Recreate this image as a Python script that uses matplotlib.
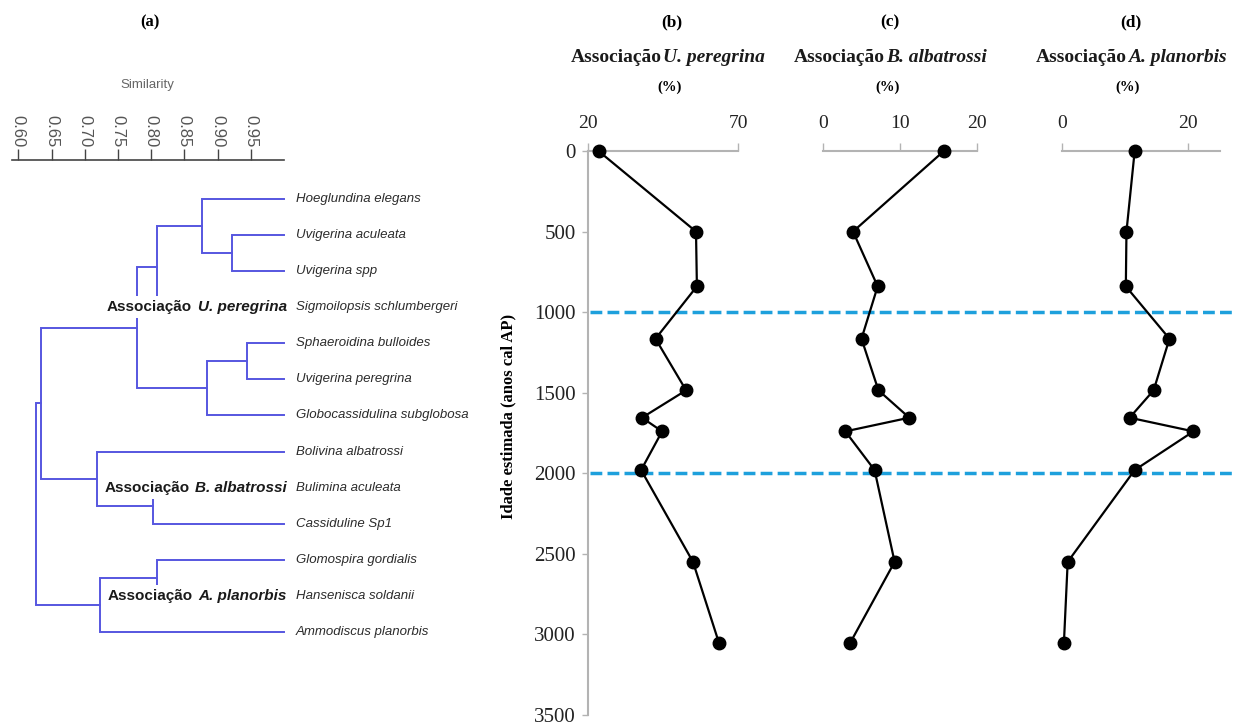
import matplotlib
matplotlib.use("Agg")
import matplotlib.pyplot as plt
from matplotlib.offsetbox import TextArea, HPacker, AnnotationBbox

# --- data ---------------------------------------------------------------
# (a) cluster dendrogram
leaves = ["Hoeglundina elegans", "Uvigerina aculeata", "Uvigerina spp",
          "Sigmoilopsis schlumbergeri", "Sphaeroidina bulloides",
          "Uvigerina peregrina", "Globocassidulina subglobosa",
          "Bolivina albatrossi", "Bulimina aculeata", "Cassiduline Sp1",
          "Glomospira gordialis", "Hansenisca soldanii", "Ammodiscus planorbis"]
# merges: (cluster a, cluster b, similarity) - new cluster ids start at 13
merges = [(1, 2, 0.922), (0, 13, 0.877), (14, 3, 0.809), (4, 5, 0.944),
          (16, 6, 0.884), (15, 17, 0.779), (8, 9, 0.803), (7, 19, 0.719),
          (18, 20, 0.634), (10, 11, 0.809), (22, 12, 0.723), (21, 23, 0.627)]
sim_ticks = [0.60, 0.65, 0.70, 0.75, 0.80, 0.85, 0.90, 0.95]
groups = [("U. peregrina", 3), ("B. albatrossi", 8), ("A. planorbis", 11)]

# (b)-(d) relative abundance vs age
age = [0, 500, 840, 1165, 1485, 1655, 1740, 1980, 2550, 3055]
u_peregrina = [23.5, 56, 56.3, 42.5, 52.7, 38, 44.7, 37.7, 55, 63.7]
b_albatrossi = [15.7, 3.9, 7.1, 5.0, 7.2, 11.2, 2.9, 6.7, 9.3, 3.5]
a_planorbis = [11.5, 10.2, 10.1, 17.0, 14.5, 10.7, 20.8, 11.5, 0.9, 0.3]
age_ticks = [0, 500, 1000, 1500, 2000, 2500, 3000, 3500]
limits = [1000, 2000]

W, H = 1243, 726
SERIF = "Liberation Serif"
SANS = "Liberation Sans"
BLUE = "#5656e0"
GREY = "#b3b3b3"


def rect(x0, y0, x1, y1):
    # pixel box (top-left origin) -> figure fraction rect
    return [x0 / W, 1 - y1 / H, (x1 - x0) / W, (y1 - y0) / H]


def two_part(a, b, family, size, x, y, ax, align=(0.5, 0.5), xycoords="figure fraction",
             white=False, sep=3):
    t1 = TextArea(a, textprops=dict(family=family, weight="bold", size=size, color="#1a1a1a"))
    t2 = TextArea(b, textprops=dict(family=family, weight="bold", style="italic",
                                    size=size, color="#1a1a1a"))
    box = HPacker(children=[t1, t2], align="baseline", pad=0, sep=sep)
    ab = AnnotationBbox(box, (x, y), xycoords=xycoords, box_alignment=align,
                        frameon=white, pad=0.3, annotation_clip=False,
                        bboxprops=dict(fc="white", ec="none"))
    ab.set_zorder(5)
    ax.add_artist(ab)


fig = plt.figure(figsize=(W / 100, H / 100), dpi=100)

# --- (a) dendrogram -----------------------------------------------------
ax_a = fig.add_axes(rect(11.7, 160, 283.9, 668))
ax_a.set_xlim(0.59, 1.0)
ax_a.set_ylim(13.0, -1.081)
n = len(leaves)
pos = {i: (1.0, i) for i in range(n)}
for k, (a, b, s) in enumerate(merges):
    xa, ya = pos[a]
    xb, yb = pos[b]
    ax_a.plot([xa, s, s, xb], [ya, ya, yb, yb], color=BLUE, lw=1.4,
              solid_joinstyle="miter", clip_on=False)
    pos[n + k] = (s, (ya + yb) / 2)
for i, name in enumerate(leaves):
    ax_a.text(1.018, i, name, family=SANS, style="italic", size=9.5,
              color="#2b2b2b", va="center", ha="left", clip_on=False)
for name, row in groups:
    two_part("Associação", name, SANS, 11, 1.0045, row, ax_a, align=(1, 0.5),
             xycoords="data", white=True, sep=4)
for side in ["left", "right", "bottom"]:
    ax_a.spines[side].set_visible(False)
ax_a.spines["top"].set_color("#444444")
ax_a.spines["top"].set_linewidth(1.2)
ax_a.xaxis.tick_top()
ax_a.set_xticks(sim_ticks)
ax_a.set_xticklabels([f"{v:.2f}" for v in sim_ticks], family=SANS)
ax_a.tick_params(axis="x", direction="out", length=8, width=1, color="#444444",
                 labelrotation=270, pad=1, labelsize=12, labelcolor="#555555")
ax_a.set_yticks([])
ax_a.patch.set_alpha(0)
fig.text(147 / W, 1 - 85 / H, "Similarity", family=SANS, size=9.5, color="#666666",
         ha="center", va="center")
fig.text(150 / W, 1 - 22 / H, "(a)", family=SERIF, weight="bold", size=12,
         ha="center", va="center")

# --- (b)-(d) profiles ---------------------------------------------------
ax_lines = fig.add_axes(rect(590, 151, 1232, 715))
ax_lines.set_xlim(0, 1)
ax_lines.set_ylim(3500, 0)
for v in limits:
    ax_lines.axhline(v, color="#1ea0dc", lw=2.5, dashes=(3.4, 1.5))
ax_lines.axis("off")

panels = [
    (rect(588, 151, 738, 715), u_peregrina, (20, 70), [20, 70], "(b)", "U. peregrina", 668, 890),
    (rect(823, 151, 977, 715), b_albatrossi, (0, 20), [0, 10, 20], "(c)", "B. albatrossi", 890, 888),
    (rect(1062, 151, 1220, 715), a_planorbis, (0, 25), [0, 20], "(d)", "A. planorbis", 1131, 1128),
]
for i, (r, vals, xl, xt, tag, name, cx, pc) in enumerate(panels):
    ax = fig.add_axes(r)
    ax.patch.set_alpha(0)
    ax.plot(vals, age, color="black", lw=1.6, marker="o", markersize=9, clip_on=False,
            zorder=3)
    ax.set_xlim(*xl)
    ax.set_ylim(3500, 0)
    ax.xaxis.tick_top()
    ax.set_xticks(xt)
    ax.set_xticklabels([str(v) for v in xt], family=SERIF)
    ax.tick_params(axis="x", direction="out", length=6, width=1, color=GREY,
                   labelsize=14, pad=8, labelcolor="#222222")
    for side in ["right", "bottom"]:
        ax.spines[side].set_visible(False)
    ax.spines["top"].set_color(GREY)
    ax.spines["top"].set_linewidth(1.5)
    if i == 0:
        ax.spines["left"].set_color(GREY)
        ax.spines["left"].set_linewidth(1.5)
        ax.set_yticks(age_ticks)
        ax.set_yticklabels([str(v) for v in age_ticks], family=SERIF)
        ax.tick_params(axis="y", direction="out", length=4, width=1, color=GREY,
                       labelsize=15, pad=5, labelcolor="#222222")
    else:
        ax.spines["left"].set_visible(False)
        ax.set_yticks([])
    fig.text((cx if i else 672) / W, 1 - 22 / H, tag, family=SERIF, weight="bold",
             size=12.5, ha="center", va="center")
    two_part("Associação", name, SERIF, 14, cx / W, 1 - 57 / H, ax, sep=1)
    fig.text((pc if i else 670) / W, 1 - 87 / H, "(%)", family=SERIF, weight="bold",
             size=10.5, ha="center", va="center")

fig.text(508 / W, 1 - 416 / H, "Idade estimada (anos cal AP)", family=SERIF,
         weight="bold", size=12, rotation=90, ha="center", va="center")

fig.savefig("out.png", dpi=100)
